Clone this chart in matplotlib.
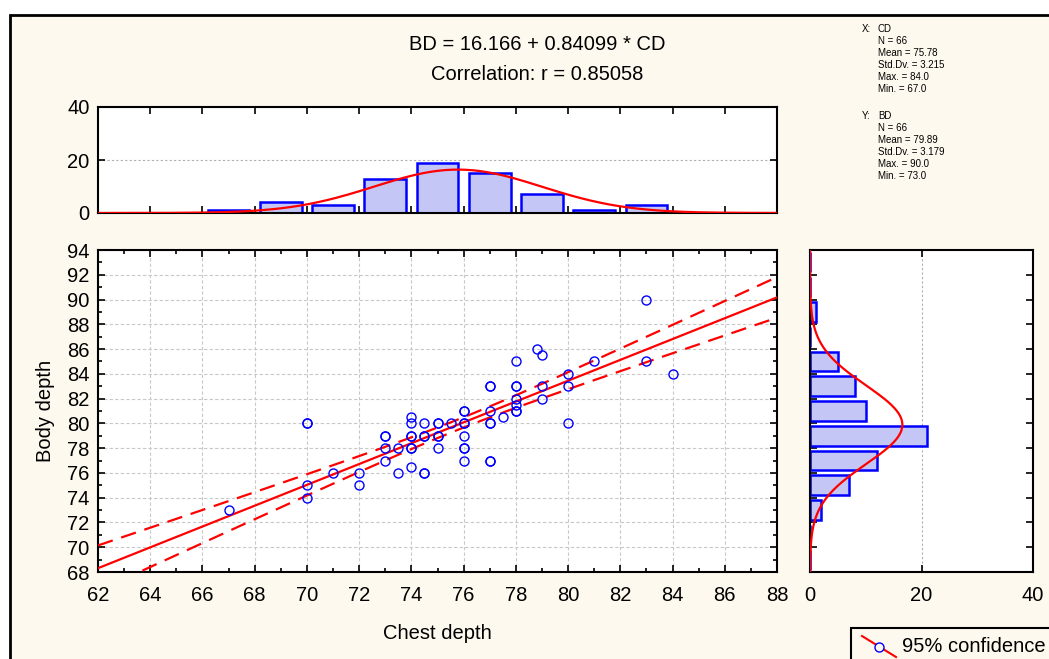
#render off-screen, only the png is needed
import matplotlib
matplotlib.use('Agg')

import matplotlib.pyplot as plt
from matplotlib.patches import Rectangle
from matplotlib.lines import Line2D
from matplotlib.ticker import MultipleLocator
import numpy as np

#chest depth (CD) and body depth (BD) of the 66 cases
chest_depth = [67,
               70, 70, 70, 70,
               71,
               72, 72,
               73, 73, 73, 73,
               73.5, 73.5,
               74, 74, 74, 74, 74, 74, 74,
               74.5, 74.5, 74.5, 74.5, 74.5,
               75, 75, 75, 75, 75,
               75.5,
               76, 76, 76, 76, 76, 76, 76, 76,
               77, 77, 77, 77, 77, 77, 77,
               77.5,
               78, 78, 78, 78, 78, 78, 78,
               78.8,
               79, 79, 79,
               80, 80, 80,
               81,
               83, 83,
               84]
body_depth = [73,
              80, 80, 75, 74,
              76,
              76, 75,
              79, 79, 78, 77,
              78, 76,
              80.5, 80, 79, 79, 78, 78, 76.5,
              80, 79, 79, 76, 76,
              80, 80, 79, 79, 78,
              80,
              81, 81, 80, 80, 79, 78, 78, 77,
              83, 83, 81, 80, 80, 77, 77,
              80.5,
              85, 83, 83, 82, 81.5, 81, 81,
              86,
              85.5, 83, 82,
              84, 83, 80,
              85,
              90, 85,
              84]

#regression and summary statistics as printed on the chart
intercept = 16.166
slope = 0.84099
r_value = 0.85058
cd_mean, cd_sd = 75.78, 3.215
bd_mean, bd_sd = 79.89, 3.179

#text of the descriptive statistics box
x_stats = ['N = 66', 'Mean = 75.78', 'Std.Dv. = 3.215', 'Max. = 84.0', 'Min. = 67.0']
y_stats = ['N = 66', 'Mean = 79.89', 'Std.Dv. = 3.179', 'Max. = 90.0', 'Min. = 73.0']

cd = np.array(chest_depth, dtype=float)
bd = np.array(body_depth, dtype=float)
n = len(cd)

W, H = 1049, 659
cream = '#fef9ee'
blue = '#0000ff'
bar_fill = '#c4c7f6'
red = '#ff0000'
fs = 14.5

plt.rcParams['font.family'] = ['Liberation Sans', 'DejaVu Sans']

fig = plt.figure(figsize=(W / 100, H / 100), dpi=100, facecolor='white')

#the cream frame with a black border, cut off at the right and bottom edges
fig.add_artist(Rectangle((10 / W, -0.2), 1.2, (H - 15) / H + 0.2,
                         transform=fig.transFigure, facecolor=cream,
                         edgecolor='black', linewidth=2, zorder=0))

def px(x, y):
    #pixel (from top-left) to figure fraction
    return x / W, 1 - y / H

ax_top = fig.add_axes([98 / W, (H - 213) / H, 679 / W, 106 / H])
ax_sc = fig.add_axes([98 / W, (H - 572) / H, 679 / W, 322 / H])
ax_rt = fig.add_axes([810 / W, (H - 572) / H, 223 / W, 322 / H])

#histogram bins are 2 wide and closed on the right, e.g. (68, 70]
cd_edges = np.arange(62, 90, 2) + 0.01
bd_edges = np.arange(68, 96, 2) + 0.01
cd_counts, _ = np.histogram(cd, bins=cd_edges)
bd_counts, _ = np.histogram(bd, bins=bd_edges)
cd_centers = cd_edges[:-1] + 0.99
bd_centers = bd_edges[:-1] + 0.99

def normal_curve(grid, m, s):
    return n * 2 * np.exp(-0.5 * ((grid - m) / s) ** 2) / (s * np.sqrt(2 * np.pi))

#top histogram of CD
ax_top.bar(cd_centers, cd_counts, width=1.6, color=bar_fill, edgecolor=blue,
           linewidth=1.8, zorder=2)
gx = np.linspace(62, 88, 300)
ax_top.plot(gx, normal_curve(gx, cd_mean, cd_sd), color=red, lw=1.6, zorder=3)
ax_top.set_xlim(62, 88)
ax_top.set_ylim(0, 40)
ax_top.set_yticks([0, 20, 40])
ax_top.xaxis.set_major_locator(MultipleLocator(2))
ax_top.set_xticklabels([])
ax_top.yaxis.grid(True, linestyle=(0, (2, 2)), color='#b0b0b0', lw=0.8)
ax_top.set_axisbelow(True)

#right histogram of BD
ax_rt.barh(bd_centers, bd_counts, height=1.6, color=bar_fill, edgecolor=blue,
           linewidth=1.8, zorder=2)
gy = np.linspace(68, 94, 300)
ax_rt.plot(normal_curve(gy, bd_mean, bd_sd), gy, color=red, lw=1.6, zorder=3)
ax_rt.set_xlim(0, 40)
ax_rt.set_ylim(68, 94)
ax_rt.set_xticks([0, 20, 40])
ax_rt.yaxis.set_major_locator(MultipleLocator(2))
ax_rt.set_yticklabels([])
ax_rt.xaxis.grid(True, linestyle=(0, (2, 2)), color='#b0b0b0', lw=0.8)
ax_rt.set_axisbelow(True)

#scatter with the regression line and 95% confidence band for the mean
ax_sc.plot(cd, bd, 'o', mfc='none', mec=blue, ms=6.5, mew=1.0, zorder=4)
lx = np.linspace(62, 88, 200)
ly = intercept + slope * lx
s_res = bd_sd * np.sqrt(1 - r_value ** 2) * np.sqrt((n - 1) / (n - 2))
sxx = (n - 1) * cd_sd ** 2
t_crit = 1.998
half = t_crit * s_res * np.sqrt(1 / n + (lx - cd_mean) ** 2 / sxx)
ax_sc.plot(lx, ly, color=red, lw=1.6, zorder=3)
ax_sc.plot(lx, ly + half, color=red, lw=1.6, ls=(0, (7, 4)), zorder=3)
ax_sc.plot(lx, ly - half, color=red, lw=1.6, ls=(0, (7, 4)), zorder=3)
ax_sc.set_xlim(62, 88)
ax_sc.set_ylim(68, 94)
ax_sc.xaxis.set_major_locator(MultipleLocator(2))
ax_sc.yaxis.set_major_locator(MultipleLocator(2))
ax_sc.xaxis.set_minor_locator(MultipleLocator(1))
ax_sc.yaxis.set_minor_locator(MultipleLocator(1))
ax_sc.grid(True, which='major', linestyle=(0, (3, 2)), color='#c8c8c8', lw=0.8)
ax_sc.set_axisbelow(True)

for a in (ax_top, ax_sc, ax_rt):
    a.set_facecolor('white')
    for sp in a.spines.values():
        sp.set_linewidth(1.5)
    a.tick_params(which='both', direction='in', top=True, right=True,
                  labelsize=fs, width=1.2)
    a.tick_params(which='major', length=5, pad=6)
    a.tick_params(which='minor', length=3)
    a.tick_params(axis='x', which='major', pad=10)

ax_sc.set_xlabel('Chest depth', fontsize=fs, labelpad=14)
ax_sc.set_ylabel('Body depth', fontsize=fs, labelpad=9)

#header with the regression equation
fig.text(*px(537, 44), 'BD = %.3f + %.5f * CD' % (intercept, slope),
         ha='center', va='center', fontsize=fs)
fig.text(*px(537, 74), 'Correlation: r = %.5f' % r_value,
         ha='center', va='center', fontsize=fs)

#descriptive statistics, top right
fig.text(*px(862, 29), 'X:', ha='left', va='center', fontsize=7)
fig.text(*px(878, 29), 'CD', ha='left', va='center', fontsize=7)
for i, line in enumerate(x_stats):
    fig.text(*px(878, 29 + 12 * (i + 1)), line, ha='left', va='center', fontsize=7)
fig.text(*px(862, 116), 'Y:', ha='left', va='center', fontsize=7)
fig.text(*px(878, 116), 'BD', ha='left', va='center', fontsize=7)
for i, line in enumerate(y_stats):
    fig.text(*px(878, 116 + 12 * (i + 1)), line, ha='left', va='center', fontsize=7)

#legend box, cut off by the image edge
fig.add_artist(Rectangle(px(851, 700), 0.3, 72 / H, transform=fig.transFigure,
                         facecolor=cream, edgecolor='black', linewidth=1.5, zorder=5))
x0, y0 = px(862, 636)
x1, y1 = px(896, 657)
fig.add_artist(Line2D([x0, x1], [y0, y1], transform=fig.transFigure,
                      color=red, lw=1.5, zorder=6))
fig.add_artist(Line2D([(x0 + x1) / 2], [(y0 + y1) / 2], transform=fig.transFigure,
                      marker='o', mfc=cream, mec=blue, ms=6.5, mew=1.0, zorder=7))
fig.text(*px(902, 647), '95% confidence', ha='left', va='center', fontsize=fs, zorder=8)

fig.savefig('out.png', dpi=100, facecolor=fig.get_facecolor())
